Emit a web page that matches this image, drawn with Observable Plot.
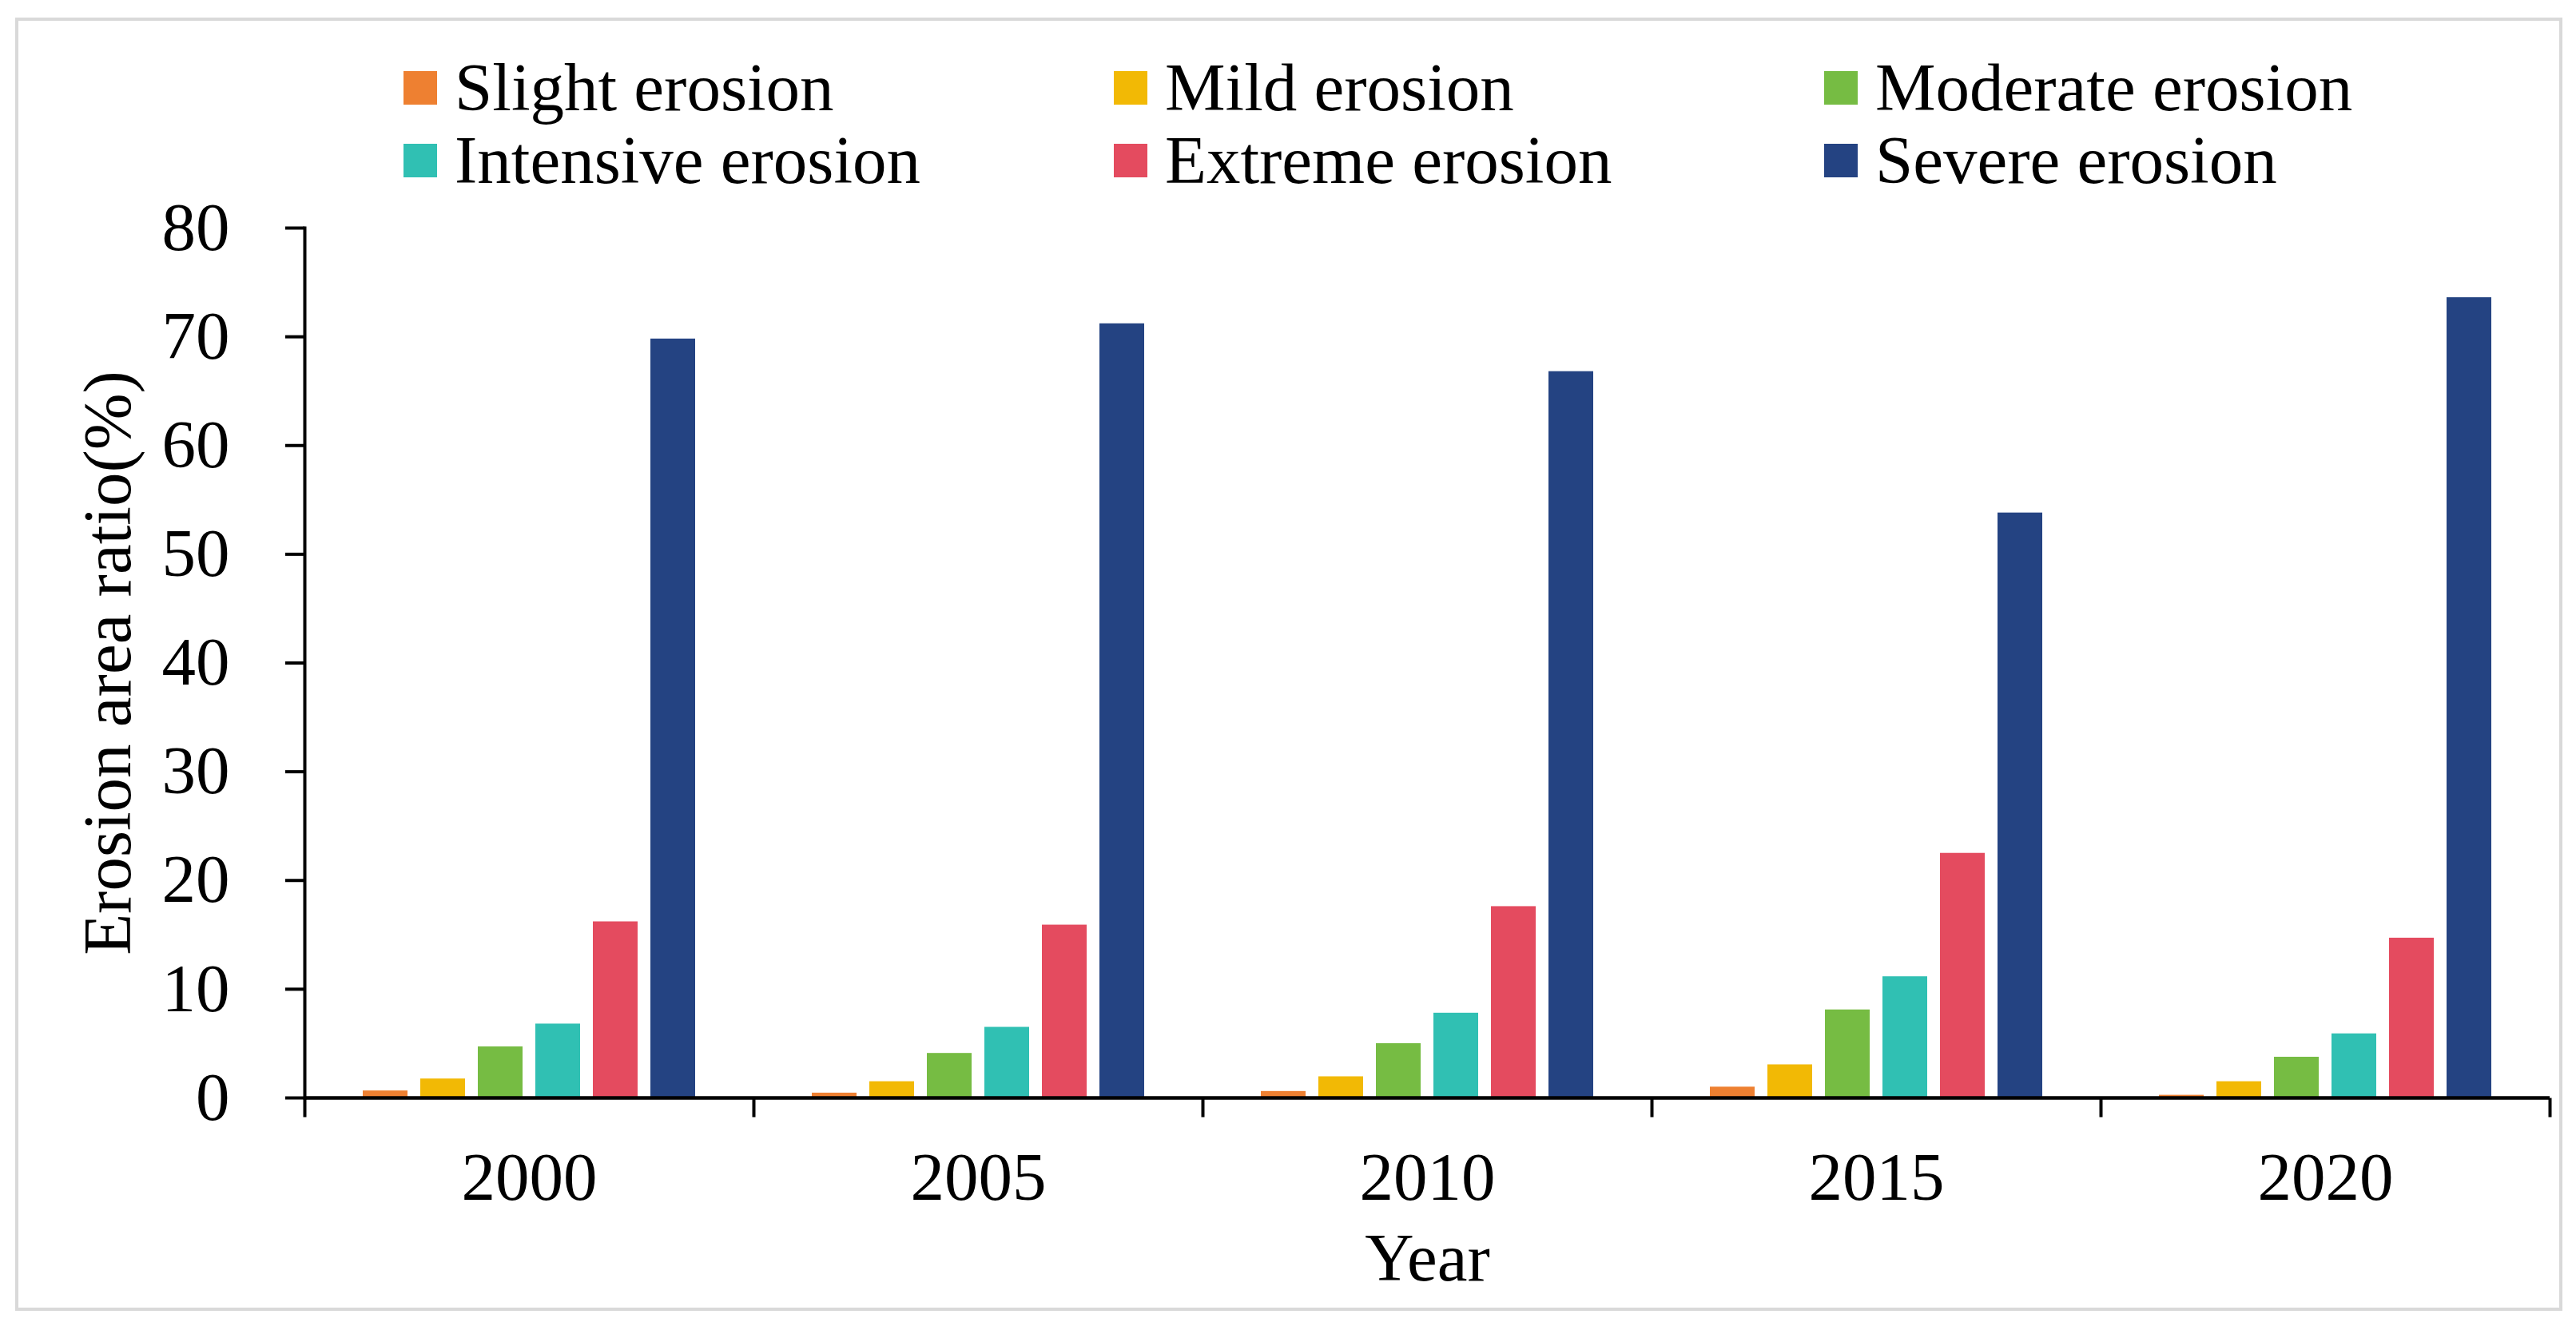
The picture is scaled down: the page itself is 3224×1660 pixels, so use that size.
<!DOCTYPE html>
<html>
<head>
<meta charset="utf-8">
<script src="https://cdn.jsdelivr.net/npm/d3@7"></script>
<script src="https://cdn.jsdelivr.net/npm/@observablehq/plot@0.6"></script>
<style>
html, body { margin: 0; padding: 0; background: #fff; }
body { width: 3224px; height: 1660px; position: relative; overflow: hidden;
       font-family: "Liberation Serif", "Times New Roman", serif; color: #000; }
#border { position: absolute; left: 19px; top: 22px; width: 3188px; height: 1619px;
          border: 4px solid #d9d9d9; box-sizing: border-box; pointer-events: none; }
#legend { box-sizing: content-box; padding-top: 64px; padding-left: 505px; height: 182px;
          display: grid; grid-template-columns: 889px 889px 889px; grid-auto-rows: 91px; }
.item { display: flex; align-items: center; font-size: 85px; line-height: 91px; white-space: nowrap; }
.sw { width: 42px; height: 42px; margin-right: 22px; flex: none; }
#chart svg { display: block; }
</style>
</head>
<body>
<div id="legend"></div>
<div id="chart"></div>
<div id="border"></div>
<script>
// ---- data ----
const years = ["2000", "2005", "2010", "2015", "2020"];
const categories = ["Slight erosion", "Mild erosion", "Moderate erosion",
                    "Intensive erosion", "Extreme erosion", "Severe erosion"];
const colors = ["#EE8031", "#F2B905", "#76BC43", "#30C0B3", "#E44B5F", "#244382"];

const slight    = [0.65, 0.45, 0.60, 1.00, 0.25];
const mild      = [1.75, 1.50, 1.95, 3.05, 1.50];
const moderate  = [4.70, 4.10, 5.00, 8.10, 3.75];
const intensive = [6.80, 6.50, 7.80, 11.15, 5.90];
const extreme   = [16.2, 15.9, 17.6, 22.5, 14.7];
const severe    = [69.8, 71.2, 66.8, 53.8, 73.6];

const yTicks = [0, 10, 20, 30, 40, 50, 60, 70, 80];
const yLabel = "Erosion area ratio(%)";
const xLabel = "Year";

// ---- table built from the arrays ----
const series = [slight, mild, moderate, intensive, extreme, severe];
const rows = years.flatMap((yr, i) =>
  categories.map((c, j) => ({year: yr, category: c, value: series[j][i]})));

// ---- legend (HTML, above the svg) ----
const legend = document.getElementById("legend");
categories.forEach((c, j) => {
  const item = document.createElement("div");
  item.className = "item";
  const sw = document.createElement("span");
  sw.className = "sw";
  sw.style.background = colors[j];
  item.appendChild(sw);
  item.appendChild(document.createTextNode(c));
  legend.appendChild(item);
});

// custom symbol: a short downward tick (length = r)
const tickDown = {
  draw(context, size) {
    const r = Math.sqrt(size / Math.PI);
    context.moveTo(0, 0);
    context.lineTo(0, r);
  }
};

const font = "Liberation Serif, Times New Roman, serif";

const chart = Plot.plot({
  width: 3224,
  height: 1414,
  marginLeft: 380,
  marginRight: 32,
  marginTop: 39,
  marginBottom: 286,
  style: {fontFamily: font, fontSize: "85px", color: "#000", background: "transparent", overflow: "visible"},
  fx: {domain: years, padding: 0},
  x: {domain: categories, paddingInner: 0.22, paddingOuter: 0.96, axis: null},
  y: {domain: [0, 80]},
  color: {domain: categories, range: colors},
  marks: [
    Plot.barY(rows, {fx: "year", x: "category", y: "value", fill: "category"}),
    Plot.ruleY([0], {stroke: "#000", strokeWidth: 4.5}),
    Plot.frame({anchor: "left", fx: [years[0]], stroke: "#000", strokeWidth: 4}),
    Plot.dot(years, {fx: d => d, frameAnchor: "bottom-left", symbol: tickDown, r: 24,
                     stroke: "#000", strokeWidth: 4, fill: "none"}),
    Plot.dot([years[years.length - 1]], {fx: d => d, frameAnchor: "bottom-right", symbol: tickDown, r: 24,
                     stroke: "#000", strokeWidth: 4, fill: "none"}),
    Plot.axisY({ticks: yTicks, tickSize: 24, tickPadding: 70, strokeWidth: 4, fontSize: 85,
                label: yLabel, labelAnchor: "center", labelOffset: 279, labelArrow: "none"}),
    Plot.axisFx({anchor: "bottom", tickSize: 0, tickPadding: 67, fontSize: 85,
                 label: xLabel, labelAnchor: "center", labelOffset: 228, labelArrow: "none"})
  ]
});
document.getElementById("chart").appendChild(chart);
</script>
</body>
</html>
